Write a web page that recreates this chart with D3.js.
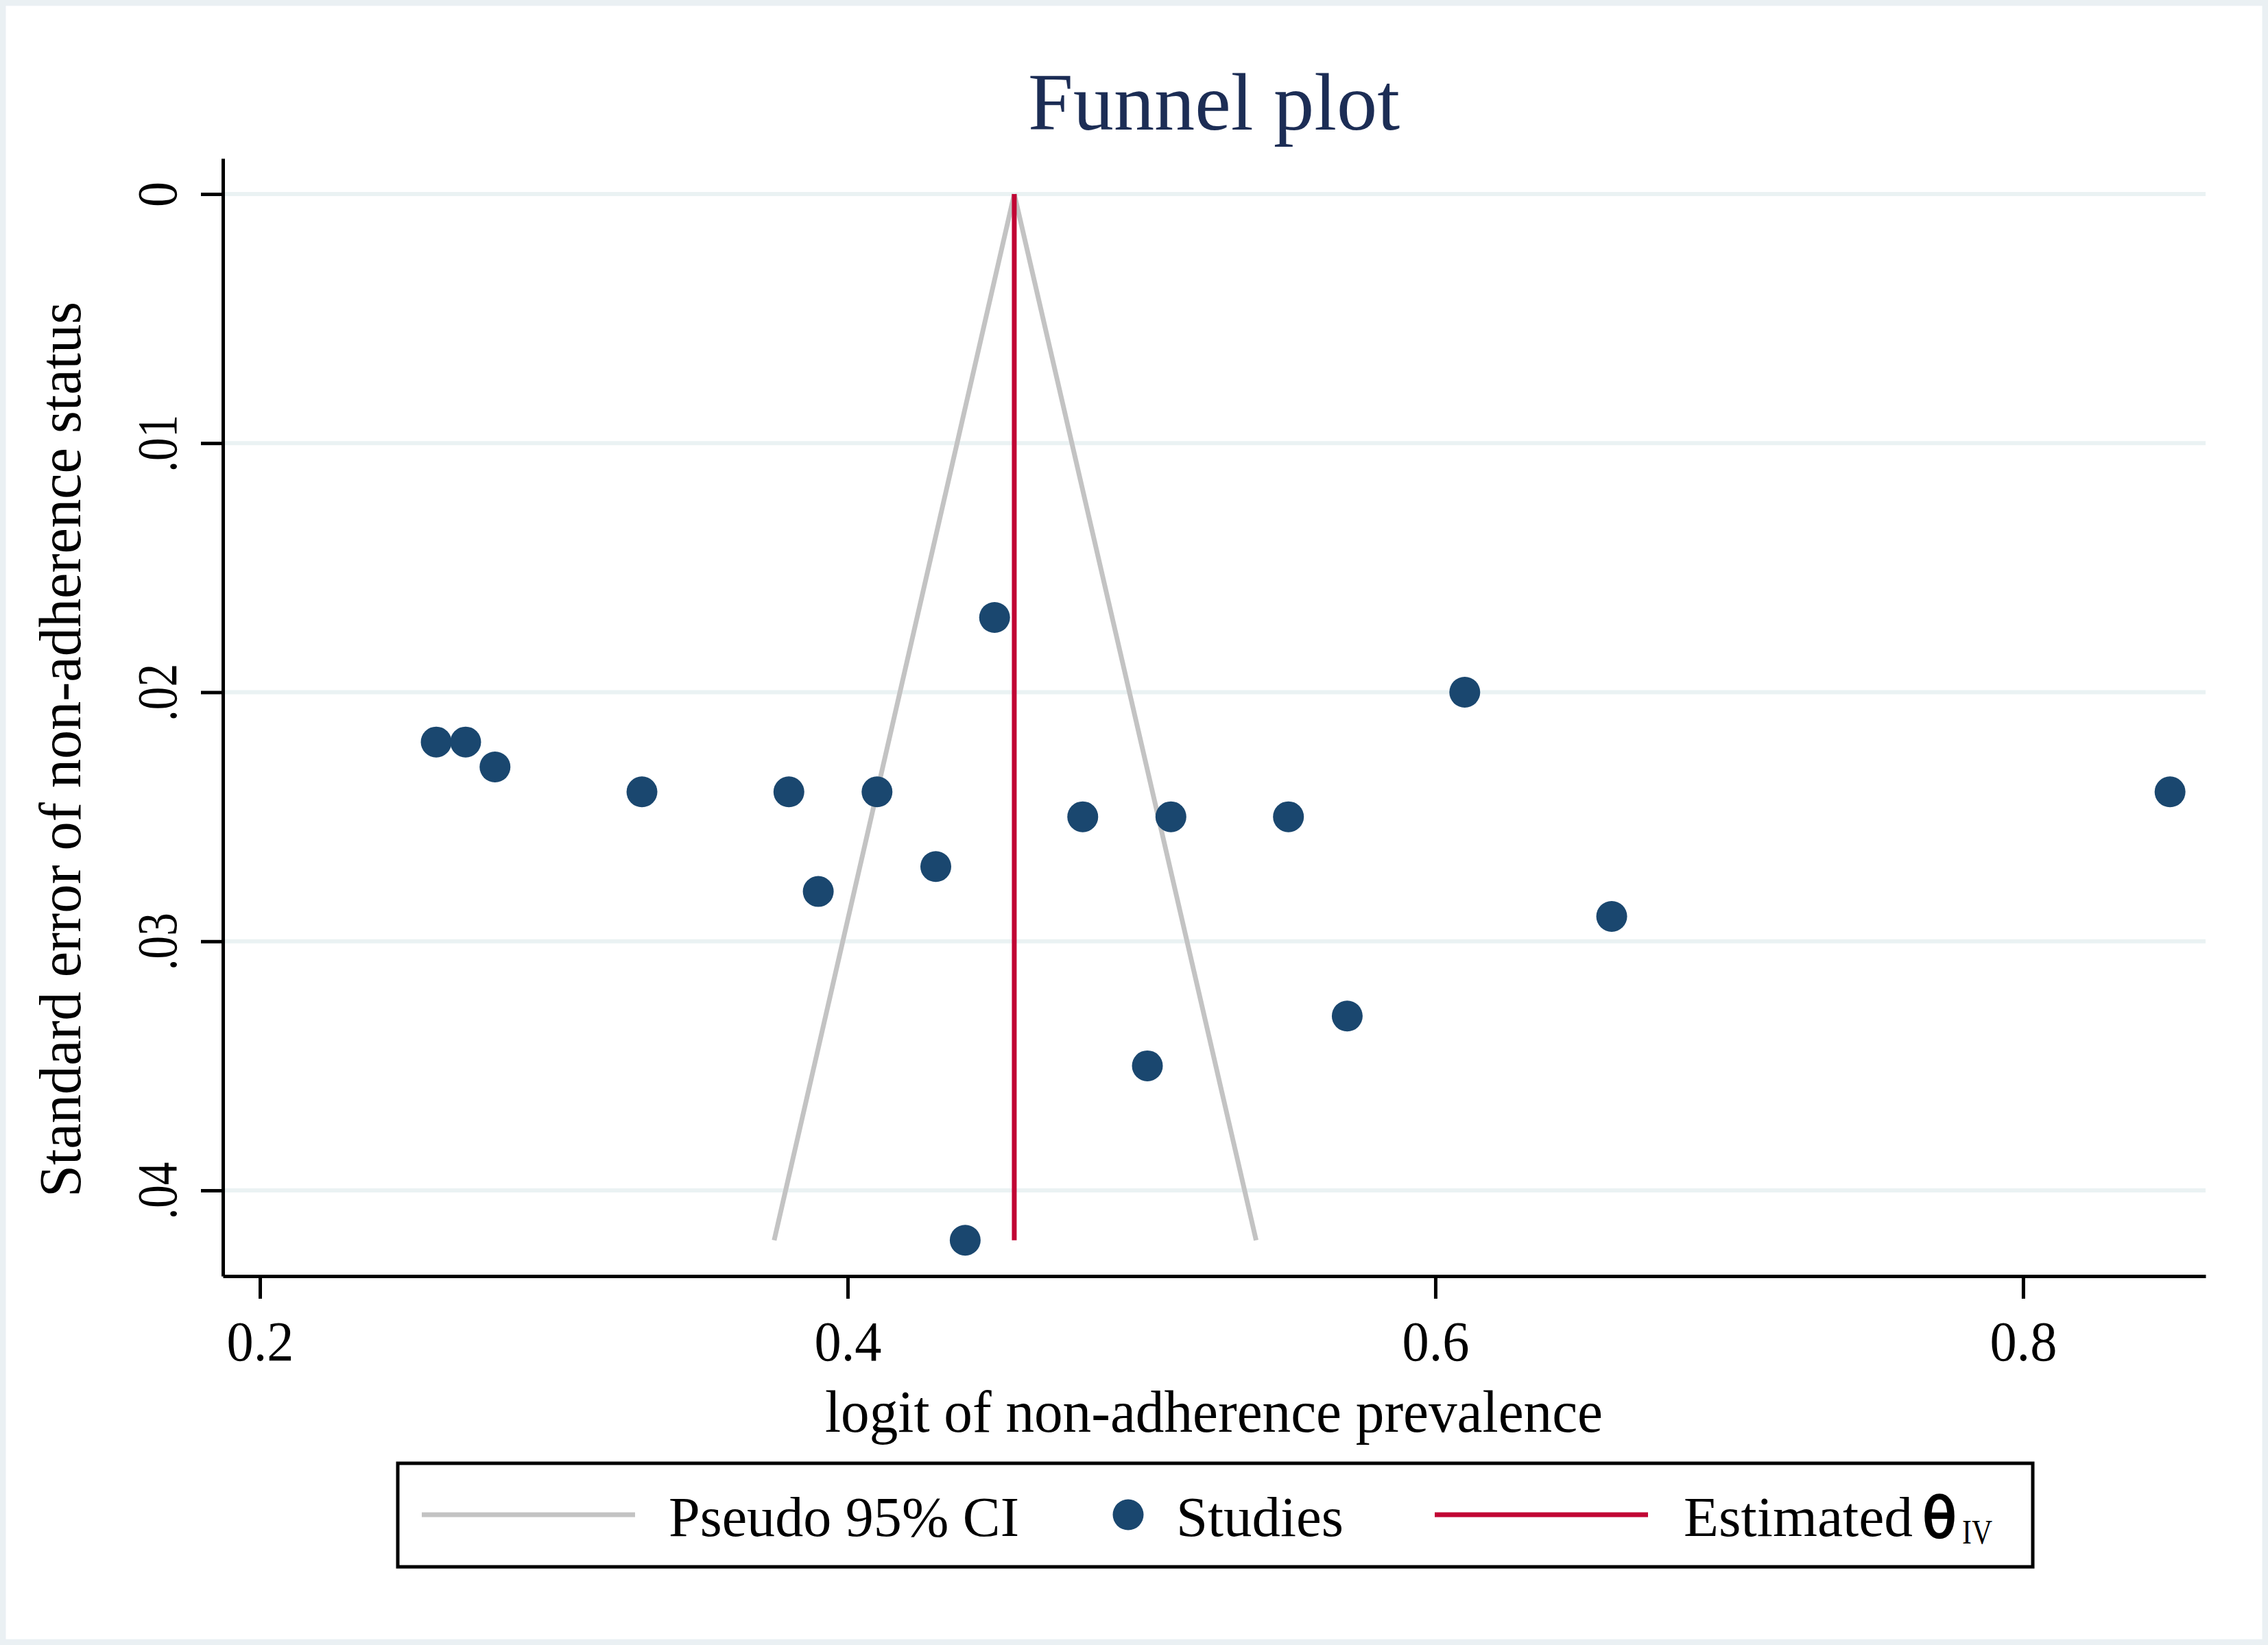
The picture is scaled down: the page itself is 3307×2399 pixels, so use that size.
<!DOCTYPE html>
<html>
<head>
<meta charset="utf-8">
<script src="https://cdn.jsdelivr.net/npm/d3@7"></script>
<style>
  body { margin: 0; background: #ffffff; }
  text { font-family: "Liberation Serif", "DejaVu Serif", serif; fill: #000; }
</style>
</head>
<body>
<svg id="chart" width="3307" height="2399"></svg>
<script>
// study estimates
const studyLogit = [0.26, 0.27, 0.28, 0.33, 0.38, 0.39, 0.41, 0.43, 0.45, 0.44, 0.48, 0.502, 0.51, 0.55, 0.57, 0.61, 0.66, 0.85];
const studySE    = [0.022, 0.022, 0.023, 0.024, 0.024, 0.028, 0.024, 0.027, 0.017, 0.042, 0.025, 0.035, 0.025, 0.025, 0.033, 0.020, 0.029, 0.024];

// pooled estimate and pseudo 95% CI limits
const thetaIV = 0.4567;
const funnelSE    = [0, 0.042];
const funnelLower = [0.4567, 0.375];
const funnelUpper = [0.4567, 0.539];

// axis ticks
const xTicks = [0.2, 0.4, 0.6, 0.8];
const yTicks = [0, 0.01, 0.02, 0.03, 0.04];

const svg = d3.select("#chart");

// outer frame
svg.append("rect")
    .attr("x", 4).attr("y", 4)
    .attr("width", 3299).attr("height", 2391)
    .attr("fill", "#ffffff")
    .attr("stroke", "#eaf0f3")
    .attr("stroke-width", 9);

// scales
const xScale = d3.scaleLinear().domain([0.1874, 0.8621]).range([325, 3216]);
const yScale = d3.scaleLinear().domain([-0.00143, 0.04344]).range([231, 1861]);

// horizontal grid lines
svg.append("g")
  .selectAll("line")
  .data(yTicks)
  .enter()
  .append("line")
    .attr("x1", 328).attr("x2", 3216)
    .attr("y1", d => yScale(d)).attr("y2", d => yScale(d))
    .attr("stroke", "#eaf2f3")
    .attr("stroke-width", 6);

// x axis
const xAxis = svg.append("g")
    .attr("transform", "translate(0,1861)")
    .call(d3.axisBottom(xScale)
      .tickValues(xTicks)
      .tickSize(33)
      .tickSizeOuter(0)
      .tickFormat(d3.format(".1f")));

xAxis.select(".domain").attr("stroke", "#000").attr("stroke-width", 5);
xAxis.selectAll(".tick line").attr("stroke", "#000").attr("stroke-width", 5);
xAxis.selectAll(".tick text")
    .attr("y", 123)
    .attr("dy", 0)
    .attr("font-size", 82)
    .attr("font-family", "Liberation Serif")
    .attr("textLength", 98)
    .attr("lengthAdjust", "spacingAndGlyphs");

// y axis
const yAxis = svg.append("g")
    .attr("transform", "translate(325,0)")
    .call(d3.axisLeft(yScale)
      .tickValues(yTicks)
      .tickSize(32)
      .tickSizeOuter(0)
      .tickFormat(d => d === 0 ? "0" : d3.format(".2f")(d).replace(/^0/, "")));

yAxis.select(".domain").attr("stroke", "#000").attr("stroke-width", 5);
yAxis.selectAll(".tick line").attr("stroke", "#000").attr("stroke-width", 5);
yAxis.selectAll(".tick text")
    .attr("transform", "rotate(-90)")
    .attr("x", 0)
    .attr("y", -68)
    .attr("dy", 0)
    .attr("text-anchor", "middle")
    .attr("font-size", 82)
    .attr("font-family", "Liberation Serif")
    .attr("textLength", d => d === 0 ? 37 : 84)
    .attr("lengthAdjust", "spacingAndGlyphs");

// pseudo 95% CI funnel
const funnelLine = d3.line()
    .x(d => xScale(d[0]))
    .y(d => yScale(d[1]));

[funnelLower, funnelUpper].forEach(limits => {
  svg.append("path")
      .datum(limits.map((v, i) => [v, funnelSE[i]]))
      .attr("d", funnelLine)
      .attr("fill", "none")
      .attr("stroke", "#c3c3c3")
      .attr("stroke-width", 7);
});

// study markers
svg.append("g")
  .selectAll("circle")
  .data(studyLogit.map((v, i) => ({ logit: v, se: studySE[i] })))
  .enter()
  .append("circle")
    .attr("cx", d => xScale(d.logit))
    .attr("cy", d => yScale(d.se))
    .attr("r", 22.5)
    .attr("fill", "#1a476f");

// estimated theta line
svg.append("line")
    .attr("x1", xScale(thetaIV)).attr("x2", xScale(thetaIV))
    .attr("y1", yScale(funnelSE[0])).attr("y2", yScale(funnelSE[1]))
    .attr("stroke", "#c10534")
    .attr("stroke-width", 7);

// titles
svg.append("text")
    .attr("x", 1499).attr("y", 189)
    .attr("font-size", 119)
    .style("fill", "#1c2d55")
    .attr("textLength", 542)
    .attr("lengthAdjust", "spacingAndGlyphs")
    .text("Funnel plot");

svg.append("text")
    .attr("x", 1203).attr("y", 2088)
    .attr("font-size", 86)
    .attr("textLength", 1134)
    .attr("lengthAdjust", "spacingAndGlyphs")
    .text("logit of non-adherence prevalence");

svg.append("text")
    .attr("transform", "translate(117,1746) rotate(-90)")
    .attr("font-size", 86)
    .attr("textLength", 1306)
    .attr("lengthAdjust", "spacingAndGlyphs")
    .text("Standard error of non-adherence status");

// legend
const legend = svg.append("g");

legend.append("rect")
    .attr("x", 580).attr("y", 2134)
    .attr("width", 2384).attr("height", 151)
    .attr("fill", "#ffffff")
    .attr("stroke", "#000")
    .attr("stroke-width", 5);

legend.append("line")
    .attr("x1", 615).attr("x2", 926)
    .attr("y1", 2209).attr("y2", 2209)
    .attr("stroke", "#c3c3c3")
    .attr("stroke-width", 7);

legend.append("text")
    .attr("x", 975).attr("y", 2240)
    .attr("font-size", 83)
    .attr("textLength", 511)
    .attr("lengthAdjust", "spacingAndGlyphs")
    .text("Pseudo 95% CI");

legend.append("circle")
    .attr("cx", 1645).attr("cy", 2209)
    .attr("r", 22.5)
    .attr("fill", "#1a476f");

legend.append("text")
    .attr("x", 1715).attr("y", 2240)
    .attr("font-size", 83)
    .attr("textLength", 244)
    .attr("lengthAdjust", "spacingAndGlyphs")
    .text("Studies");

legend.append("line")
    .attr("x1", 2092).attr("x2", 2403)
    .attr("y1", 2209).attr("y2", 2209)
    .attr("stroke", "#c10534")
    .attr("stroke-width", 7);

legend.append("text")
    .attr("x", 2455).attr("y", 2240)
    .attr("font-size", 83)
    .attr("textLength", 334)
    .attr("lengthAdjust", "spacingAndGlyphs")
    .text("Estimated");

legend.append("text")
    .attr("x", 2803).attr("y", 2242)
    .attr("font-size", 82)
    .style("font-family", "DejaVu Sans")
    .attr("stroke", "#000")
    .attr("stroke-width", 2.5)
    .attr("textLength", 50)
    .attr("lengthAdjust", "spacingAndGlyphs")
    .text("θ");

legend.append("text")
    .attr("x", 2861).attr("y", 2251)
    .attr("font-size", 51)
    .attr("textLength", 44)
    .attr("lengthAdjust", "spacingAndGlyphs")
    .text("IV");
</script>
</body>
</html>
